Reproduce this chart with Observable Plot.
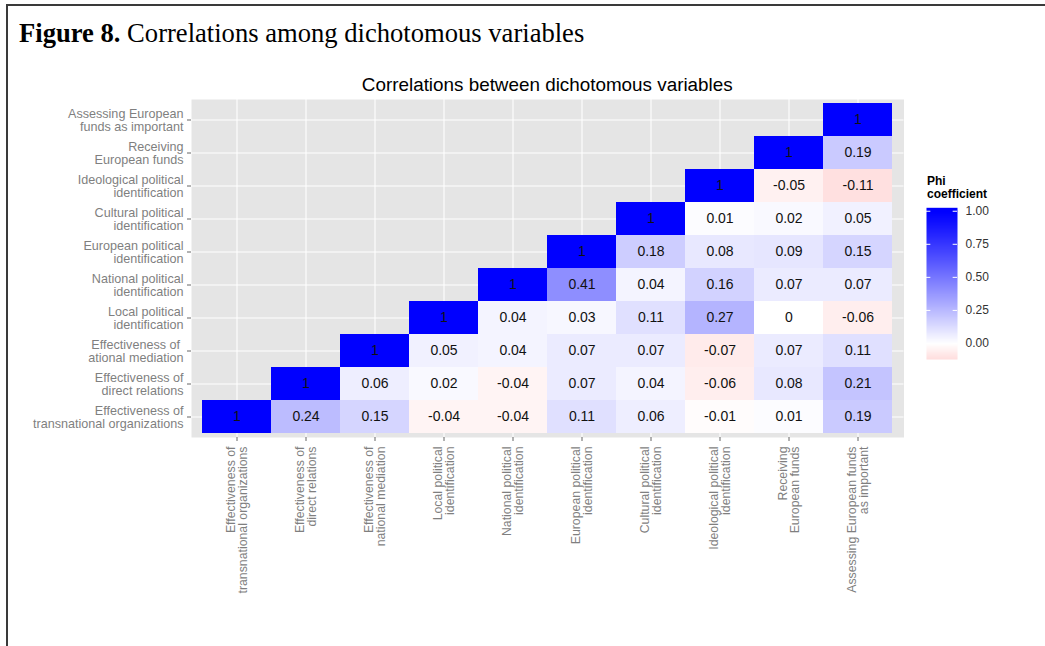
<!DOCTYPE html>
<html>
<head>
<meta charset="utf-8">
<script src="https://cdn.jsdelivr.net/npm/d3@7"></script>
<script src="https://cdn.jsdelivr.net/npm/@observablehq/plot@0.6"></script>
<style>
  html, body { margin: 0; padding: 0; background: #fff; overflow: hidden; }
  #page { position: relative; width: 1045px; height: 646px; }
  #frame { position: absolute; left: 6px; top: 4px; width: 1100px; height: 700px;
           border-top: 2px solid #3a3a3a; border-left: 2px solid #3a3a3a; }
  #caption { position: absolute; left: 19px; top: 19.5px; font-family: "Liberation Serif", "Times New Roman", serif;
             font-size: 26.6px; line-height: 26.6px; white-space: nowrap; color: #000; }
  #title { position: absolute; left: 191px; width: 712.5px; top: 76.3px; text-align: center;
           font-family: "Liberation Sans", Arial, sans-serif; font-size: 18.85px; line-height: 18.85px; color: #000; white-space: nowrap; }
  #legtitle { position: absolute; left: 927px; top: 175.3px; font-family: "Liberation Sans", Arial, sans-serif;
              font-weight: bold; font-size: 12px; line-height: 13px; color: #000; }
  #main, #legend { position: absolute; }
  #main { left: 0; top: 0; }
  #legend { left: 900px; top: 150px; }
</style>
</head>
<body>
<div id="page">
  <div id="frame"></div>
  <div id="caption"><b>Figure 8.</b> Correlations among dichotomous variables</div>
  <div id="title">Correlations between dichotomous variables</div>
  <div id="legtitle">Phi<br>coefficient</div>
  <div id="main"></div>
  <div id="legend"></div>
</div>
<script>
// Variables (bottom-to-top on y, left-to-right on x)
const variables = [
  "transnational", "direct", "nationalMediation", "local", "national",
  "european", "cultural", "ideological", "receiving", "assessing"
];
const xLabels = [
  "Effectiveness of\ntransnational organizations",
  "Effectiveness of\ndirect relations",
  "Effectiveness of\nnational mediation",
  "Local political\nidentification",
  "National political\nidentification",
  "European political\nidentification",
  "Cultural political\nidentification",
  "Ideological political\nidentification",
  "Receiving\nEuropean funds",
  "Assessing European funds\nas important"
];
const yLabels = [
  "Effectiveness of\ntransnational organizations",
  "Effectiveness of\ndirect relations",
  "Effectiveness of \national mediation",
  "Local political\nidentification",
  "National political\nidentification",
  "European political\nidentification",
  "Cultural political\nidentification",
  "Ideological political\nidentification",
  "Receiving\nEuropean funds",
  "Assessing European\nfunds as important"
];

// Each row: values from the diagonal rightwards
const rowTransnational      = [1, 0.24, 0.15, -0.04, -0.04, 0.11, 0.06, -0.01, 0.01, 0.19];
const rowDirect             = [1, 0.06, 0.02, -0.04, 0.07, 0.04, -0.06, 0.08, 0.21];
const rowNationalMediation  = [1, 0.05, 0.04, 0.07, 0.07, -0.07, 0.07, 0.11];
const rowLocal              = [1, 0.04, 0.03, 0.11, 0.27, 0, -0.06];
const rowNational           = [1, 0.41, 0.04, 0.16, 0.07, 0.07];
const rowEuropean           = [1, 0.18, 0.08, 0.09, 0.15];
const rowCultural           = [1, 0.01, 0.02, 0.05];
const rowIdeological        = [1, -0.05, -0.11];
const rowReceiving          = [1, 0.19];
const rowAssessing          = [1];

const legendTicks = [0, 0.25, 0.5, 0.75, 1];

const rows = [rowTransnational, rowDirect, rowNationalMediation, rowLocal, rowNational,
              rowEuropean, rowCultural, rowIdeological, rowReceiving, rowAssessing];
const data = [];
rows.forEach((vals, i) => {
  vals.forEach((v, k) => {
    data.push({ y: variables[i], x: variables[i + k], v, label: String(v) });
  });
});

const xLabelOf = new Map(variables.map((d, i) => [d, xLabels[i]]));
const yLabelOf = new Map(variables.map((d, i) => [d, yLabels[i]]));

const colorScale = { type: "linear", domain: [-1, 0, 1], range: ["red", "white", "blue"], interpolate: d3.interpolateRgb.gamma(0.9) };
const font = "'Liberation Sans', Arial, Helvetica, sans-serif";

const main = Plot.plot({
  width: 1045,
  height: 646,
  marginLeft: 191,
  marginRight: 141.5,
  marginTop: 99,
  marginBottom: 209,
  style: { fontFamily: font, background: "transparent", overflow: "visible" },
  x: { type: "band", domain: variables, padding: 0, insetLeft: 7, insetRight: 7, label: null },
  y: { type: "band", domain: variables.slice().reverse(), padding: 0, insetTop: 3.3, insetBottom: 3.3, label: null },
  color: colorScale,
  marks: [
    Plot.frame({ fill: "#E5E5E5", stroke: null }),
    Plot.gridX({ stroke: "white", strokeOpacity: 1, strokeWidth: 1.1 }),
    Plot.gridY({ stroke: "white", strokeOpacity: 1, strokeWidth: 1.1 }),
    Plot.cell(data, { x: "x", y: "y", fill: "v", inset: 0 }),
    Plot.text(data, { x: "x", y: "y", text: "label", fill: "#111", fontSize: 14 }),
    Plot.axisX({
      anchor: "bottom", tickSize: 4, tickPadding: 5, tickRotate: -90,
      tickFormat: d => xLabelOf.get(d), textAnchor: "end", lineAnchor: "middle", lineHeight: 1.0,
      fontSize: 12.3, fill: "#7f7f7f", stroke: "#666", label: null
    }),
    Plot.axisY({
      anchor: "left", tickSize: 4, tickPadding: 4,
      tickFormat: d => yLabelOf.get(d), textAnchor: "end", lineAnchor: "middle", lineHeight: 1.04,
      fontSize: 12.6, fill: "#7f7f7f", stroke: "#666", label: null
    })
  ]
});
document.getElementById("main").appendChild(main);

const lo = -0.121, hi = 1.026;
const legend = Plot.plot({
  width: 140,
  height: 230,
  marginLeft: 26,
  marginRight: 83,
  marginTop: 57.3,
  marginBottom: 21,
  style: { fontFamily: font, background: "transparent", overflow: "visible" },
  x: { domain: [0, 1], axis: null },
  y: { domain: [lo, hi], axis: null },
  color: colorScale,
  marks: [
    Plot.raster({ fill: (x, y) => y, x1: 0, x2: 1, y1: lo, y2: hi, width: 2, height: 300 }),
    Plot.ruleY(legendTicks, { x1: 0, x2: 0.14, stroke: "white", strokeWidth: 1 }),
    Plot.ruleY(legendTicks, { x1: 0.86, x2: 1, stroke: "white", strokeWidth: 1 }),
    Plot.axisY(legendTicks, { anchor: "right", tickSize: 0, tickPadding: 8, tickFormat: d3.format(".2f"),
      fontSize: 12, fill: "#333", label: null })
  ]
});
document.getElementById("legend").appendChild(legend);
</script>
</body>
</html>
